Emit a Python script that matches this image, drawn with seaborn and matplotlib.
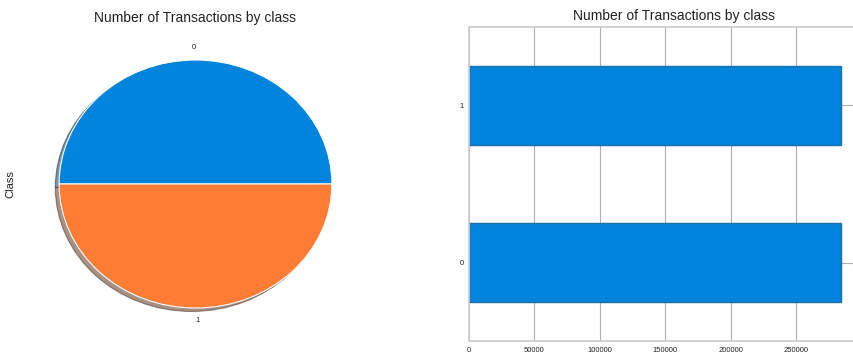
import matplotlib
matplotlib.use("Agg")
import matplotlib.pyplot as plt
import seaborn as sns
import pandas as pd

# Transaction counts per class (balanced after resampling)
classes = ["0", "1"]
counts = [284315, 284315]
pie_colors = ["#0184DC", "#FE7C33"]
bar_color = "#0184DC"
title = "Number of Transactions by class"

sns.set_theme(style="whitegrid")
plt.rcParams["font.family"] = ["Liberation Sans", "DejaVu Sans"]
plt.rcParams["axes.edgecolor"] = "#cccccc"
plt.rcParams["grid.color"] = "#b0b0b0"
plt.rcParams["grid.linewidth"] = 0.8

df = pd.DataFrame({"Class": classes, "count": counts})

fig = plt.figure(figsize=(8.54, 3.54), dpi=100)

# Pie of class shares
ax1 = fig.add_axes([25 / 854, 15 / 354, 341 / 854, 310 / 354])
ax1.pie(df["count"], labels=df["Class"], colors=pie_colors, shadow=True,
        wedgeprops={"edgecolor": "white", "linewidth": 0.8},
        textprops={"fontsize": 5.5, "color": "#222222"})
ax1.set_aspect("auto")
ax1.set_xlim(-1.25, 1.25)
ax1.set_ylim(-1.25, 1.25)
ax1.set_ylabel("Class", fontsize=8, color="#222222", labelpad=7)
ax1.set_title(title, fontsize=10, color="#222222", pad=5)

# Horizontal bars of the same counts; the frame runs past the right edge
xmax = max(counts) * 1.1
px_per_unit = 65.4 / 50000
ax2 = fig.add_axes([469 / 854, 13 / 354, xmax * px_per_unit / 854, 314 / 354])
sns.barplot(data=df, x="count", y="Class", order=["1", "0"], orient="h",
            color=bar_color, saturation=1, width=0.5,
            edgecolor="#1d6fa8", linewidth=1, ax=ax2)
ax2.yaxis.grid(True)
ax2.set_axisbelow(True)
ax2.spines["right"].set_visible(False)
ax2.set_xlim(0, xmax)
ax2.set_ylim(1.5, -0.5)
ax2.set_xticks([0, 50000, 100000, 150000, 200000, 250000])
ax2.set_xticklabels(["0", "50000", "100000", "150000", "200000", "250000"])
ax2.tick_params(axis="both", labelsize=5.5, colors="#222222", length=0, pad=4)
ax2.set_xlabel("")
ax2.set_ylabel("")
ax2.set_title(title, fontsize=10, color="#222222", pad=5)

fig.savefig("out.png", dpi=100)
